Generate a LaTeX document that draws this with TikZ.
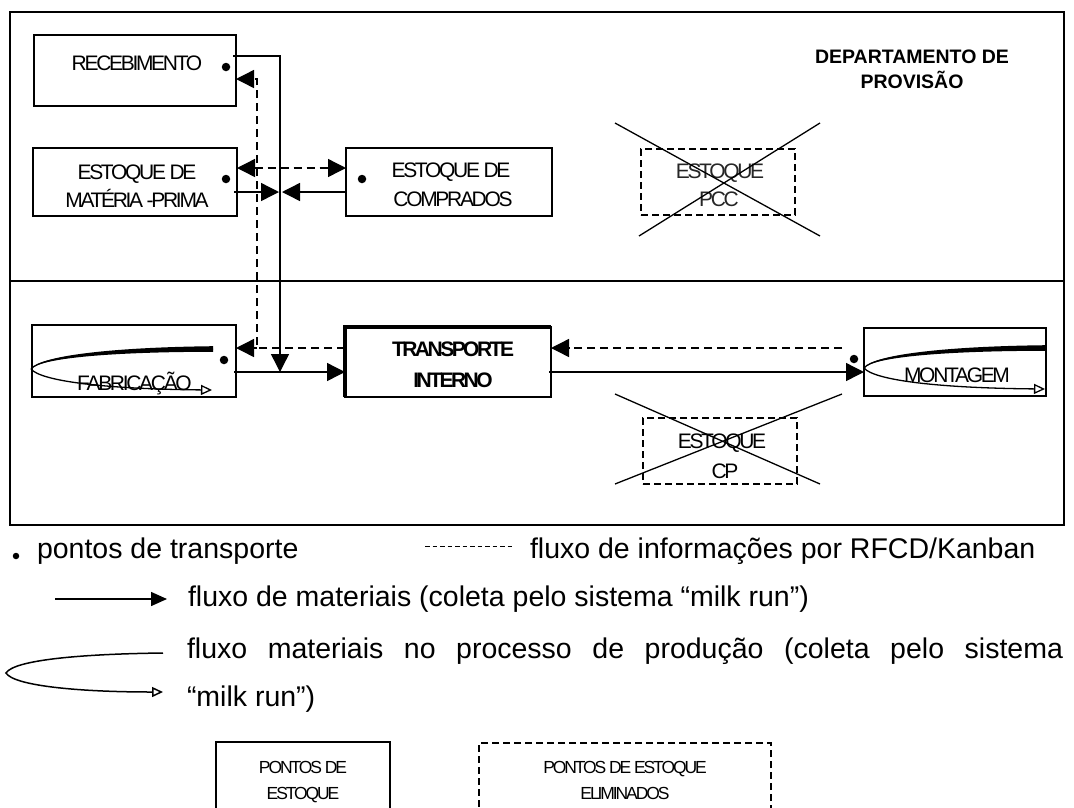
\documentclass[tikz,border=0pt]{standalone}
\usepackage{fontspec}
\setmainfont{Liberation Sans}
\usetikzlibrary{arrows.meta,calc}

\tikzset{
  pics/hairpin/.style={code={
    % tapered upper stroke of the production loop
    \fill (0,-2.8) .. controls (-95,-1.8) and (-173,6) .. (-182,20)
          .. controls (-172,8.5) and (-95,2.8) .. (0,2.8) -- cycle;
    \draw[line width=1.3pt] (0,0) .. controls (-95,0.5) and (-172.5,7.2) .. (-182,20);
    % thin return stroke with open head
    \draw[line width=1.3pt, -{Triangle[open,length=11pt,width=10pt,fill=white]}]
      (-182,20) .. controls (-172,32) and (-110,40) .. (-1,41);
  }}
}

\begin{document}
\begin{tikzpicture}[x=1pt,y=-1pt,
  every node/.style={inner sep=0pt, outer sep=0pt},
  >={Triangle[length=18pt,width=18pt]},
  box/.style={draw, line width=1.3pt},
  gone/.style={draw, line width=1.3pt, dash pattern=on 7pt off 4pt},
  lbl/.style={font=\fontsize{21}{24}\selectfont\addfontfeature{LetterSpace=-11},
              text height=15pt, text depth=0pt},
  boldlbl/.style={font=\fontsize{21}{24}\selectfont\bfseries\addfontfeature{LetterSpace=-12},
              text height=15pt, text depth=0pt},
  dept/.style={font=\fontsize{19.5}{23}\selectfont\bfseries,
              text height=14pt, text depth=0pt},
  smalllbl/.style={font=\fontsize{17.5}{20}\selectfont\addfontfeature{LetterSpace=-12},
              text height=12.5pt, text depth=0pt},
  legtext/.style={font=\fontsize{28.5}{33}\selectfont, anchor=base west},
  flow/.style={line width=1.4pt, ->},
  info/.style={line width=1.4pt, dash pattern=on 8pt off 5pt},
  dot/.style={circle, fill, minimum size=8.5pt},
  cross/.style={line width=1.3pt},
]
\path[use as bounding box, fill=white] (0,0) rectangle (1074,807);

% ---- frame and department divider
\node[box, minimum width=1054pt, minimum height=513pt] (frame) at (537,268.5) {};
\coordinate (divy) at (0,281);
\draw[line width=1.3pt] (frame.west |- divy) -- (frame.east |- divy);

\node[dept] (deptA) at (912,56) {DEPARTAMENTO DE};
\node[dept] (deptB) at (912,81) {PROVISÃO};

% ---- supply department
\node[box, minimum width=202pt, minimum height=71pt] (rec) at (135,70.5) {};
\node[lbl] (recT) at (137,62.5) {RECEBIMENTO};
\node[dot] (recD) at (226,67) {};

\node[box, minimum width=204pt, minimum height=68pt] (mp) at (135,182) {};
\node[lbl] (mpT1) at (137,172) {ESTOQUE DE};
\node[lbl] (mpT2) at (137,199.5) {MATÉRIA -PRIMA};
\node[dot] (mpD) at (226,179) {};

\node[box, minimum width=206pt, minimum height=68pt] (comp) at (449,182) {};
\node[lbl] (compT1) at (451,170) {ESTOQUE DE};
\node[lbl] (compT2) at (453,198.5) {COMPRADOS};
\node[dot] (compD) at (362,179) {};

\node[gone, minimum width=154pt, minimum height=66pt] (pcc) at (718,182) {};
\node[lbl, text=black!85] (pccT1) at (720,171) {ESTOQUE};
\node[lbl, text=black!85] (pccT2) at (719,199) {PCC};
\coordinate (pccA) at (615,123);
\coordinate (pccB) at (820,236);
\coordinate (pccC) at (639,236);
\coordinate (pccD) at (820,123);
\draw[cross] (pccA) -- (pccB);
\draw[cross] (pccC) -- (pccD);

% ---- production
\node[box, minimum width=204pt, minimum height=72pt] (fab) at (134,361) {};
\node[lbl] (fabT) at (134.5,383) {FABRICAÇÃO};
\pic (fabLoop) at (213,349) {hairpin};
\node[dot] (fabD) at (224,360) {};

\node[box, minimum width=206pt, minimum height=70pt, line width=1.6pt] (trans) at (448,362) {};
\draw[line width=3.6pt] (trans.south west) -- (trans.north west) -- (trans.north east);
\node[boldlbl] (transT1) at (453,349) {TRANSPORTE};
\node[boldlbl] (transT2) at (453,380) {INTERNO};

\node[box, minimum width=182pt, minimum height=68pt] (mont) at (955,362) {};
\node[lbl] (montT) at (957,375) {MONTAGEM};
\pic (montLoop) at (1046,348) {hairpin};
\node[dot] (montD) at (854,359) {};

\node[gone, minimum width=154pt, minimum height=66pt] (cp) at (720,451) {};
\node[lbl] (cpT1) at (722,441) {ESTOQUE};
\node[lbl] (cpT2) at (725,471) {CP};
\coordinate (cpA) at (615,394);
\coordinate (cpB) at (820,484);
\coordinate (cpC) at (615,484);
\coordinate (cpD) at (842,394);
\draw[cross] (cpA) -- (cpB);
\draw[cross] (cpC) -- (cpD);

% ---- material flow (milk run)
\coordinate (vbot) at (280,372);
\draw[flow] ($(rec.east)+(-3,-14.5)$) -| (vbot);
\coordinate (mpOut) at ($(mp.east)+(-3,10)$);
\draw[flow, shorten >=1pt] (mpOut) -- (mpOut -| vbot);
\coordinate (compOut) at ($(comp.west)+(0,10)$);
\draw[flow, shorten >=2pt] (compOut) -- (compOut -| vbot);
\coordinate (fabOut) at ($(fab.east)+(-2,11)$);
\draw[flow] (fabOut) -- (fabOut -| trans.west);
\coordinate (trOut) at ($(trans.east)+(-2,10)$);
\draw[flow] (trOut) -- (trOut -| mont.west);

% ---- information flow (RFCD / Kanban)
\coordinate (dTop) at (257,79);
\coordinate (dBot) at (257,348);
\draw[info, ->] ($(trans.west)+(0,-14)$) -- (dBot) -- (dTop) -- (dTop -| rec.east);
\draw[info, ->] (dBot) -- (dBot -| fab.east);
\draw[info, <->] ($(mp.east)+(0,-14)$) -- ($(comp.west)+(0,-14)$);
\draw[info, ->] ($(mont.west)+(-22,-14)$) -- ($(trans.east)+(0,-14)$);

% ---- legend
\node[dot, minimum size=6.5pt] (lgDot) at (16,556) {};
\node[legtext] (lg1) at (37,558) {pontos de transporte};
\coordinate (lgDashA) at (425,546);
\coordinate (lgDashB) at (512,546);
\draw[line width=1pt, dash pattern=on 4.5pt off 3pt] (lgDashA) -- (lgDashB);
\node[legtext] (lg2) at (530,558) {fluxo de informações por RFCD/Kanban};

\coordinate (lgArrA) at (55,599);
\coordinate (lgArrB) at (167,599);
\draw[line width=1.5pt, -{Triangle[length=16pt,width=14pt]}] (lgArrA) -- (lgArrB);
\node[legtext] (lg3) at (188,606) {fluxo de materiais (coleta pelo sistema “milk run”)};

\coordinate (lgLoopA) at (163,653);
\coordinate (lgLoopL) at (6,673);
\coordinate (lgLoopB) at (163,692);
\draw[line width=1.5pt, -{Triangle[open,length=11pt,width=10pt,fill=white]}]
  (lgLoopA) .. controls (80,654) and (14,660) .. (lgLoopL)
  .. controls (14,686) and (80,692) .. (lgLoopB);
\node[legtext] (lg4) at (187,658) {\makebox[876pt][s]{fluxo materiais no processo de produção (coleta pelo sistema}};
\node[legtext] (lg5) at (187,706) {“milk run”)};

\node[box, minimum width=174pt, minimum height=76pt] (lgBox1) at (303,780) {};
\node[smalllbl] (lgB1a) at (303,767) {PONTOS DE};
\node[smalllbl] (lgB1b) at (303,793) {ESTOQUE};
\node[gone, minimum width=292pt, minimum height=74pt] (lgBox2) at (625,780) {};
\node[smalllbl] (lgB2a) at (625,767) {PONTOS DE ESTOQUE};
\node[smalllbl] (lgB2b) at (625,793) {ELIMINADOS};
\end{tikzpicture}
\end{document}
